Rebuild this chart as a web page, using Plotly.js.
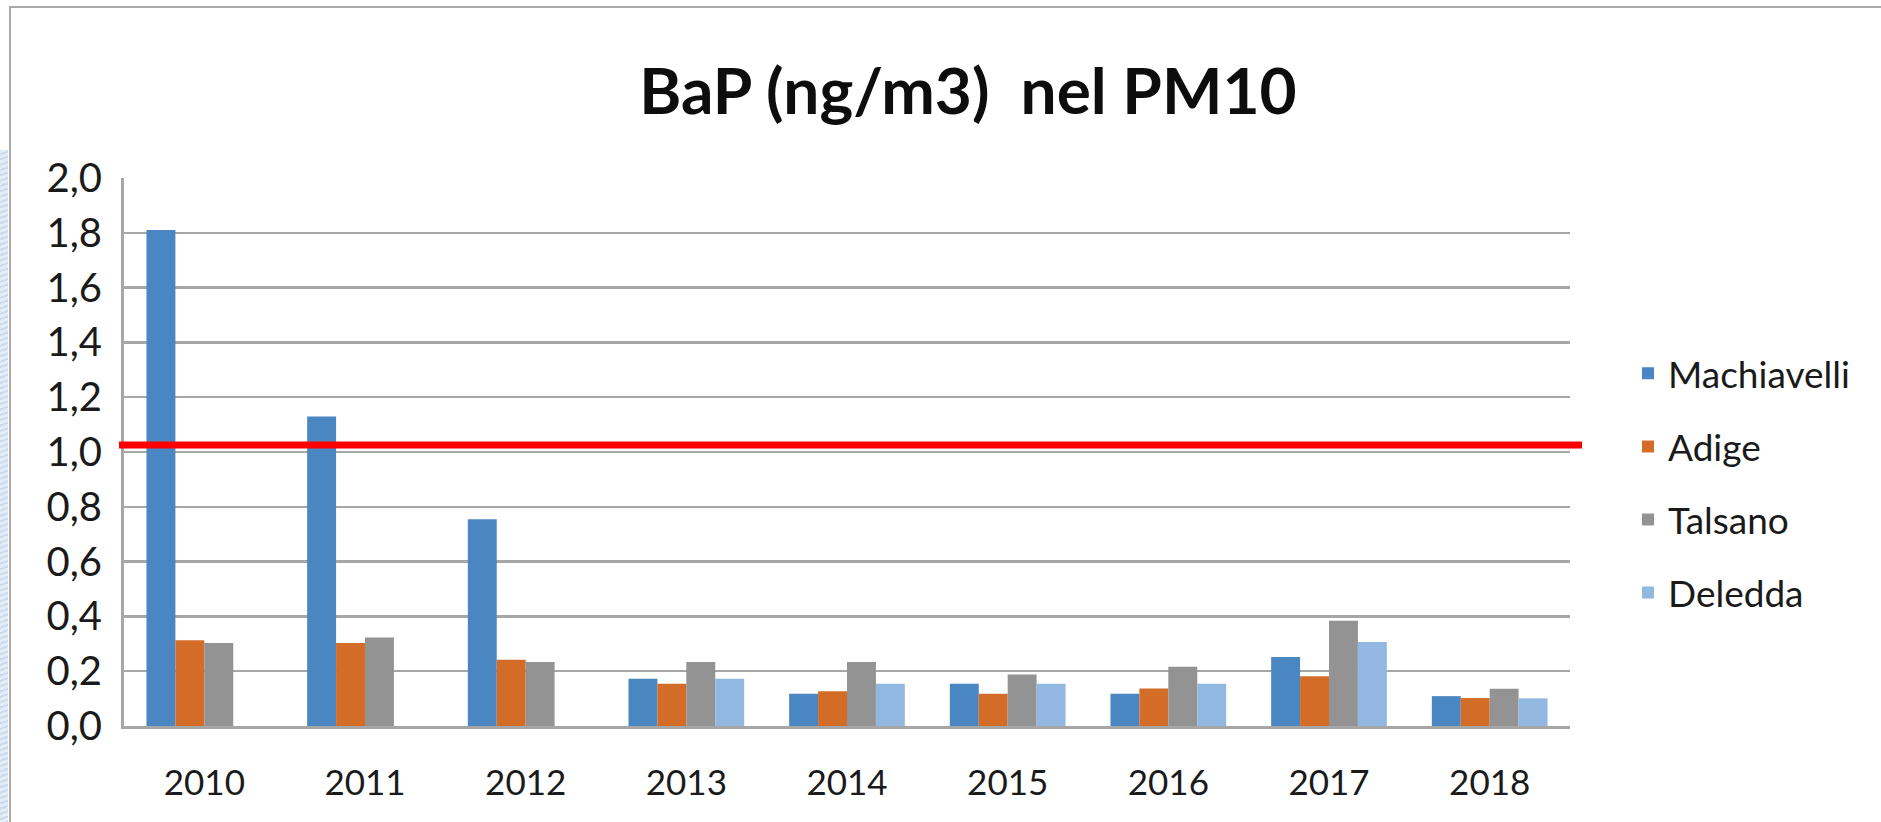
<!DOCTYPE html>
<html>
<head>
<meta charset="utf-8">
<script src="https://cdn.plot.ly/plotly-3.0.1.min.js"></script>
<style>
  html, body { margin: 0; padding: 0; background: #ffffff; overflow: hidden; }
  #strip { position: absolute; left: 0; top: 150px; width: 8px; height: 672px;
    background: repeating-linear-gradient(160deg, #e3edf7 0px, #e3edf7 3px, #c9dcee 3px, #c9dcee 5px); }
  #frame { position: absolute; left: 9px; top: 6px; width: 2000px; height: 1000px;
    border-left: 2px solid #a9a9a9; border-top: 2px solid #a9a9a9; }
  #chart { position: absolute; left: 0; top: 0; width: 1881px; height: 822px; }
</style>
</head>
<body>
<div id="strip"></div>
<div id="frame"></div>
<div id="chart"></div>
<script>
const years = ['2010', '2011', '2012', '2013', '2014', '2015', '2016', '2017', '2018'];
const seriesNames = ['Machiavelli', 'Adige', 'Talsano', 'Deledda'];
const machiavelli = [1.81, 1.13, 0.755, 0.172, 0.118, 0.154, 0.118, 0.252, 0.109];
const adige       = [0.313, 0.303, 0.242, 0.154, 0.127, 0.118, 0.137, 0.182, 0.102];
const talsano     = [0.303, 0.323, 0.234, 0.234, 0.234, 0.188, 0.216, 0.384, 0.136];
const deledda     = [null, null, null, 0.172, 0.154, 0.154, 0.154, 0.307, 0.101];
const limitValue = 1.026;
const yTicks = [0, 0.2, 0.4, 0.6, 0.8, 1.0, 1.2, 1.4, 1.6, 1.8, 2.0];

const seriesValues = [machiavelli, adige, talsano, deledda];
const seriesColors = ['#4a86c2', '#d26c27', '#939393', '#92b7e0'];

const textFont = 'Lato, "Open Sans", "Liberation Sans", sans-serif';

const traces = seriesNames.map((name, i) => ({
  type: 'bar',
  name: name,
  x: years,
  y: seriesValues[i],
  legendgroup: name,
  marker: { color: seriesColors[i], line: { width: 0 } },
  hoverinfo: 'x+y+name'
}));

const layout = {
  width: 1881,
  height: 822,
  paper_bgcolor: 'rgba(0,0,0,0)',
  plot_bgcolor: 'rgba(0,0,0,0)',
  separators: ',.',
  margin: { l: 124, r: 311, t: 178, b: 96, pad: 0 },
  font: { family: textFont, size: 34, color: '#1a1a1a' },
  title: {
    text: '<b>BaP (ng/m3)  nel PM10</b>',
    font: { family: textFont, size: 64, color: '#0d0d0d' },
    xref: 'container', x: 0.5146, xanchor: 'center',
    yref: 'container', y: 0.889, yanchor: 'middle'
  },
  barmode: 'group',
  bargap: 0.28,
  bargroupgap: 0,
  xaxis: {
    type: 'category',
    showgrid: false,
    showline: true,
    linecolor: '#a6a6a6',
    linewidth: 3,
    ticks: '',
    ticklabelstandoff: 24,
    tickfont: { family: textFont, size: 35, color: '#1a1a1a' },
    fixedrange: true
  },
  yaxis: {
    range: [0, 2],
    tickvals: yTicks,
    tickformat: '.1f',
    showgrid: true,
    gridcolor: '#a6a6a6',
    gridwidth: 2.5,
    zeroline: false,
    showline: true,
    linecolor: '#a6a6a6',
    linewidth: 3,
    ticks: '',
    ticklabelstandoff: 11,
    tickfont: { family: textFont, size: 40, color: '#1a1a1a' },
    fixedrange: true
  },
  legend: {
    x: (1628 - 124) / 1446,
    xanchor: 'left',
    y: 0.443,
    yanchor: 'middle',
    traceorder: 'grouped',
    tracegroupgap: 22,
    font: { family: textFont, size: 37, color: '#1a1a1a' },
    bgcolor: 'rgba(0,0,0,0)',
    borderwidth: 0
  },
  shapes: [{
    type: 'line',
    xref: 'paper', yref: 'y',
    x0: (119 - 124) / 1446, x1: (1582 - 124) / 1446,
    y0: limitValue, y1: limitValue,
    line: { color: '#ff0000', width: 7 },
    layer: 'above'
  }]
};

Plotly.newPlot('chart', traces, layout, { displayModeBar: false, staticPlot: true });
</script>
</body>
</html>
